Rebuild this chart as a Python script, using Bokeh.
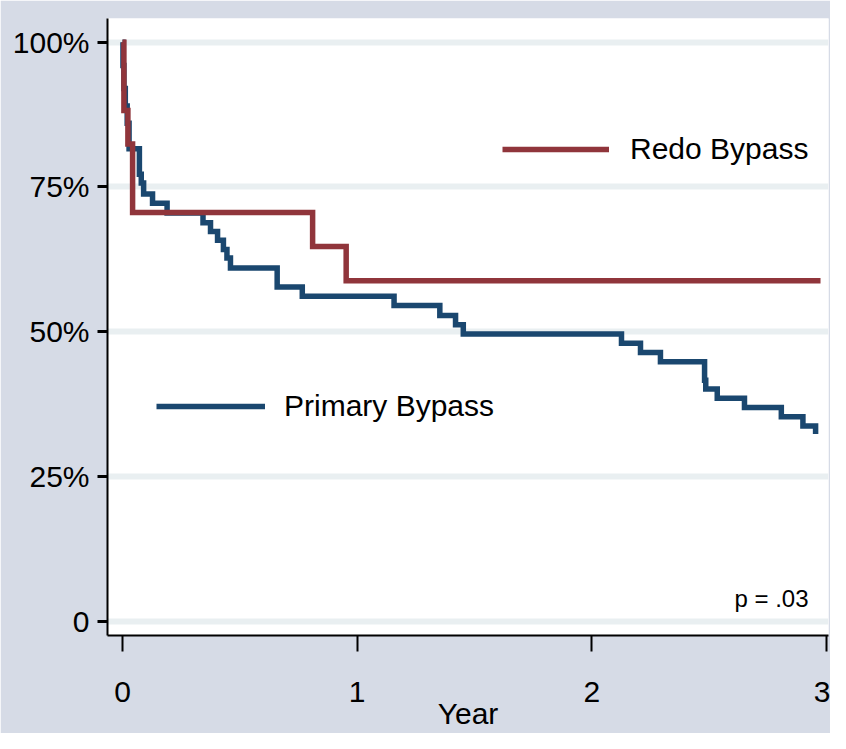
from bokeh.plotting import figure
from bokeh.models import FixedTicker, Legend, LegendItem, Label, Range1d
from bokeh.embed import file_html
from bokeh.resources import INLINE

# ---- data ----
redo_time = [0.0, 0.006, 0.023, 0.043, 0.81, 0.953, 2.974]
redo_surv = [1.0, 0.882, 0.824, 0.706, 0.647, 0.588, 0.588]

primary_time = [0.0, 0.002, 0.006, 0.012, 0.020, 0.028, 0.072, 0.080, 0.090, 0.128,
                0.190, 0.343, 0.375, 0.405, 0.430, 0.445, 0.460, 0.659, 0.766, 1.157,
                1.352, 1.419, 1.452, 2.126, 2.207, 2.292, 2.480, 2.485, 2.534, 2.650,
                2.807, 2.899, 2.953]
primary_surv = [1.0, 0.96, 0.92, 0.89, 0.86, 0.816, 0.772, 0.757, 0.738, 0.722,
                0.705, 0.688, 0.673, 0.658, 0.642, 0.627, 0.610, 0.577, 0.561, 0.545,
                0.528, 0.512, 0.496, 0.480, 0.464, 0.448, 0.416, 0.401, 0.385, 0.369,
                0.353, 0.337, 0.323]

x_ticks = [0, 1, 2, 3]
y_ticks = [0, 0.25, 0.5, 0.75, 1.0]
y_tick_labels = ["0", "25%", "50%", "75%", "100%"]
series_names = ["Primary Bypass", "Redo Bypass"]
p_value_text = "p = .03"
p_value_pos = (2.923, 0.039)

NAVY = "#1A476F"
MAROON = "#90353B"
BG = "#D6DBE6"
GRID = "#E9EFF1"
FONT = "Liberation Sans"

p = figure(width=830, height=733, output_backend="svg", toolbar_location=None,
           x_range=Range1d(-0.0639, 3.008), y_range=Range1d(-0.025, 1.041),
           min_border_left=107, min_border_right=2, min_border_top=18, min_border_bottom=98,
           background_fill_color="white", border_fill_color=BG, outline_line_color=None)

r_primary = p.step(primary_time, primary_surv, mode="after", line_color=NAVY, line_width=5.5,
                   line_join="miter")
r_redo = p.step(redo_time, redo_surv, mode="after", line_color=MAROON, line_width=5.5,
                line_join="miter")

# grid
p.xgrid.grid_line_color = None
p.ygrid.grid_line_color = GRID
p.ygrid.grid_line_width = 6
p.ygrid.ticker = FixedTicker(ticks=y_ticks)

# y axis
p.yaxis.ticker = FixedTicker(ticks=y_ticks)
p.yaxis.major_label_overrides = {t: l for t, l in zip(y_ticks, y_tick_labels)}
p.yaxis.minor_tick_line_color = None
p.yaxis.major_tick_out = 10
p.yaxis.major_tick_in = 0
p.yaxis.major_tick_line_width = 3
p.yaxis.axis_line_width = 2
p.yaxis.axis_line_color = "black"
p.yaxis.major_tick_line_color = "black"
p.yaxis.major_label_standoff = 8
p.yaxis.major_label_text_font = FONT
p.yaxis.major_label_text_font_size = "30px"
p.yaxis.major_label_text_color = "black"

# x axis
p.xaxis.ticker = FixedTicker(ticks=x_ticks)
p.xaxis.minor_tick_line_color = None
p.xaxis.major_tick_out = 16
p.xaxis.major_tick_in = 0
p.xaxis.major_tick_line_width = 2
p.xaxis.axis_line_width = 2
p.xaxis.axis_line_color = "black"
p.xaxis.major_tick_line_color = "black"
p.xaxis.major_label_standoff = 30
p.xaxis.major_label_text_font = FONT
p.xaxis.major_label_text_font_size = "30px"
p.xaxis.major_label_text_color = "black"
p.xaxis.axis_label = "Year"
p.xaxis.axis_label_text_font = FONT
p.xaxis.axis_label_text_font_size = "30px"
p.xaxis.axis_label_text_font_style = "normal"
p.xaxis.axis_label_text_color = "black"
p.xaxis.axis_label_standoff = -8


def make_legend(name, renderer, loc, gw, standoff):
    return Legend(items=[LegendItem(label=name, renderers=[renderer])], location=loc,
                  glyph_width=gw, glyph_height=34, label_height=34, label_standoff=standoff,
                  padding=0, margin=0, spacing=0, border_line_color=None,
                  background_fill_alpha=0, label_text_font=FONT,
                  label_text_font_size="30px", label_text_color="black")


p.add_layout(make_legend(series_names[1], r_redo, (395, 469), 107, 21))
p.add_layout(make_legend(series_names[0], r_primary, (49, 212), 109, 19))

p.add_layout(Label(x=p_value_pos[0], y=p_value_pos[1], text=p_value_text, text_align="right",
                   text_baseline="middle", text_font=FONT, text_font_size="24px",
                   text_color="black"))

open("out.html", "w").write(file_html(p, INLINE))
